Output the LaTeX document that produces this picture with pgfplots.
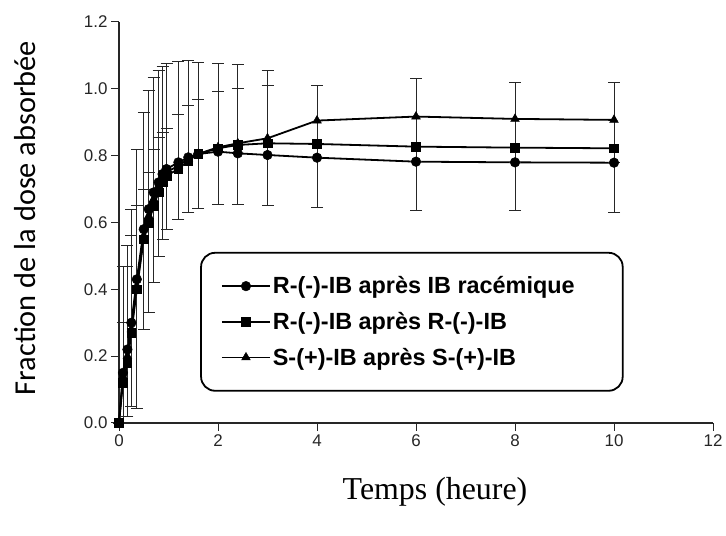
\documentclass[border=0pt]{standalone}
\usepackage{pgfplots}
\pgfplotsset{compat=1.18}
\usepackage{pgfplotstable}
\usepackage{fontspec}
\setmainfont{Liberation Sans}
\newfontfamily\carlito{Carlito}
\newfontfamily\timesf{Liberation Serif}
\newcommand{\tl}[1]{{\fontsize{17}{19}\selectfont #1}}

% R-(-)-IB apres IB racemique (circles) ; ep = upper error
\pgfplotstableread{
t     y      ep
0     0      0
0.08  0.15   0.15
0.17  0.22   0.25
0.25  0.30   0.26
0.36  0.43   0.22
0.5   0.58   0.12
0.6   0.64   0.11
0.7   0.69   0.13
0.8   0.72   0.136
0.88  0.745  0.125
0.96  0.76   0.122
1.2   0.78   0.142
1.4   0.795  0.155
1.6   0.805  0.164
2.0   0.812  0.18
2.4   0.807  0.195
3.0   0.802  0.207
4     0.794  0
6     0.782  0
8     0.780  0
10    0.779  0
}\circ

% R-(-)-IB apres R-(-)-IB (squares)
\pgfplotstableread{
t     y      ep     em
0     0      0      0
0.08  0.12   0.35   0.12
0.17  0.18   0.35   0.16
0.25  0.27   0.37   0.22
0.36  0.40   0.42   0.355
0.5   0.55   0.38   0.27
0.6   0.60   0.394  0.27
0.7   0.65   0.384  0.23
0.8   0.69   0.365  0.19
0.88  0.72   0.347  0.17
0.96  0.74   0.335  0.16
1.2   0.76   0.322  0.15
1.4   0.785  0.299  0.155
1.6   0.805  0.275  0.162
2.0   0.822  0.255  0.169
2.4   0.832  0.240  0.179
3.0   0.837  0.218  0.187
4     0.835  0.175  0.19
6     0.827  0.203  0.192
8     0.824  0.196  0.189
10    0.822  0.198  0.192
}\sq

% S-(+)-IB apres S-(+)-IB (triangles)
\pgfplotstableread{
t     y
0     0
0.08  0.14
0.17  0.20
0.25  0.28
0.36  0.41
0.5   0.56
0.6   0.62
0.7   0.67
0.8   0.71
0.88  0.735
0.96  0.75
1.2   0.77
1.4   0.79
1.6   0.805
2.0   0.825
2.4   0.837
3.0   0.852
4     0.905
6     0.917
8     0.910
10    0.907
}\tri

\begin{document}
\begin{tikzpicture}
\useasboundingbox (0,0) rectangle (726bp,536bp);
\begin{axis}[
  at={(119bp,113bp)}, anchor=south west,
  scale only axis, width=594bp, height=401bp,
  xmin=0, xmax=12, ymin=0, ymax=1.2,
  clip=false,
  axis lines*=left,
  axis line style={line width=1.3bp, black!85},
  tick align=outside,
  major tick length=8bp,
  tick style={line width=1bp, black!85},
  xtick={0,2,...,12},
  ytick={0,0.2,...,1.2},
  yticklabels={\tl{0.0},\tl{0.2},\tl{0.4},\tl{0.6},\tl{0.8},\tl{1.0},\tl{1.2}},
  xticklabels={\tl{0},\tl{2},\tl{4},\tl{6},\tl{8},\tl{10},\tl{12}},
  every tick label/.append style={text=black!85},
  every axis y label/.style={at={(axis description cs:-0.158,0.511)}, rotate=90, anchor=center},
  every axis x label/.style={at={(axis description cs:0.532,-0.172)}, anchor=center},
  ylabel={\carlito\fontsize{30.5}{34}\selectfont Fraction de la dose absorbée},
  xlabel={\timesf\fontsize{32}{36}\selectfont Temps (heure)},
  legend style={at={(axis cs:1.64,0.512)}, anchor=north west,
    draw=black, line width=1.8bp, rounded corners=14bp,
    font=\bfseries\fontsize{23.5}{27}\selectfont,
    inner xsep=20bp, inner ysep=22bp, row sep=13bp},
  legend cell align=left,
  legend image code/.code={\draw[mark repeat=2,mark phase=2] plot coordinates {(0bp,0bp)(24bp,0bp)(48bp,0bp)};},
]
\addplot+[black, line width=1.8bp, mark=*, mark size=4.8bp,
  mark options={fill=black, solid, sharp corners, line width=0.5bp},
  error bars/.cd, y dir=plus, y explicit,
  error bar style={line width=0.8bp, black!85, sharp corners},
  error mark options={rotate=90, mark size=6bp, line width=0.8bp, black!85}]
  table[x=t, y=y, y error plus=ep] {\circ};
\addlegendentry{R-(-)-IB après IB racémique\hspace*{26bp}}
\addplot+[black, line width=1.8bp, mark=square*, mark size=4.3bp,
  mark options={fill=black, solid, sharp corners, line width=0.5bp},
  error bars/.cd, y dir=both, y explicit,
  error bar style={line width=0.8bp, black!85, sharp corners},
  error mark options={rotate=90, mark size=6bp, line width=0.8bp, black!85}]
  table[x=t, y=y, y error plus=ep, y error minus=em] {\sq};
\addlegendentry{R-(-)-IB après R-(-)-IB}
\addplot+[black, line width=1.8bp, mark=triangle*, mark size=5bp,
  mark options={fill=black, solid, sharp corners, line width=0.5bp}]
  table[x=t, y=y] {\tri};
\addlegendentry{S-(+)-IB après S-(+)-IB}
\end{axis}
\end{tikzpicture}
\end{document}
